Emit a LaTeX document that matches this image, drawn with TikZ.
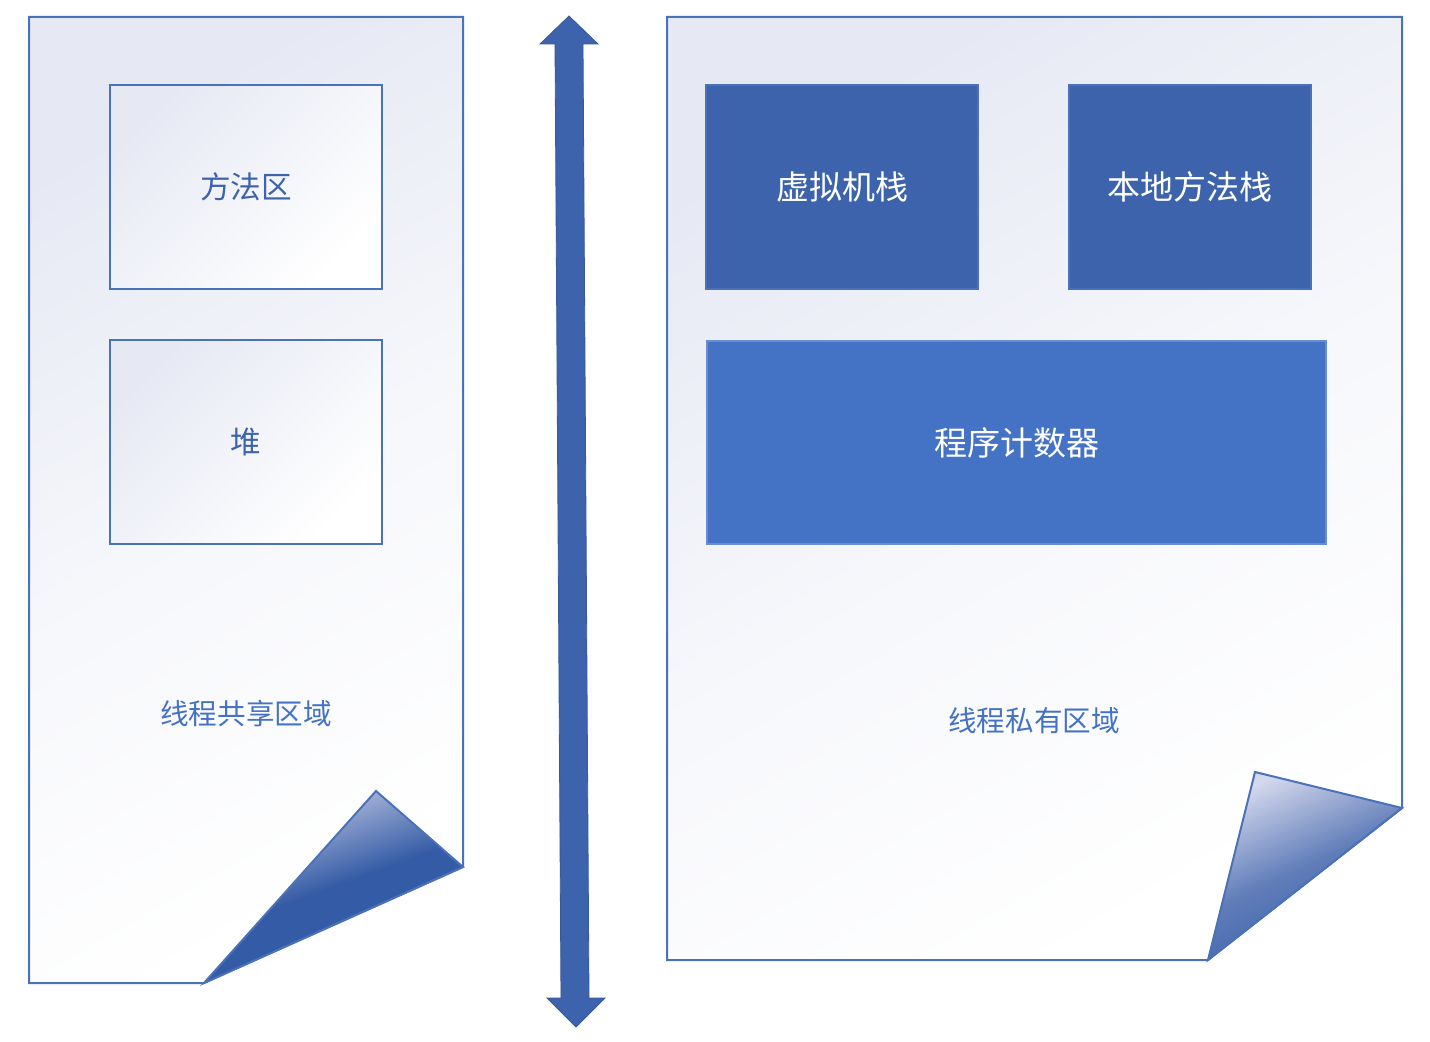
\documentclass[tikz,border=0pt]{standalone}
\usepackage{fontspec}
\usepackage{tikz}
\usetikzlibrary{calc, positioning, shapes, backgrounds}
\newfontfamily\cjk{Noto Sans CJK SC}
\definecolor{lineblue}{HTML}{4A72B8}
\definecolor{darkblue}{HTML}{3D63AC}
\definecolor{midblue}{HTML}{4472C4}
\definecolor{pagetop}{HTML}{E6E9F4}
\definecolor{foldlight}{HTML}{C9CEE8}
\definecolor{folddark}{HTML}{345BA5}
\tikzstyle{page}=[draw=lineblue, line width=1pt, top color=pagetop, bottom color=white, middle color=pagetop!35, shading angle=30]
\tikzstyle{fold}=[draw=lineblue, line width=1pt, top color=foldlight, bottom color=folddark, middle color=folddark, shading angle=20]
\tikzstyle{lightbox}=[draw=lineblue, line width=1pt, top color=pagetop, bottom color=white, shading angle=45, minimum width=136pt, minimum height=102pt, text=darkblue, font=\cjk\fontsize{15.3}{18}\selectfont]
\tikzstyle{darkbox}=[draw=lineblue, line width=0.8pt, fill=darkblue, minimum height=102pt, text=white, font=\cjk\fontsize{16.5}{20}\selectfont]
\tikzstyle{region}=[text=midblue, font=\cjk\fontsize{14.3}{17}\selectfont]

\begin{document}
\begin{tikzpicture}[x=0.5pt, y=-0.5pt]
		\useasboundingbox (0,0) rectangle (1430,1042);

		% shared area page
		\coordinate (L1) at (29,17);
		\coordinate (L2) at (463,17);
		\coordinate (L3) at (463,867);
		\coordinate (L4) at (376,791);
		\coordinate (L5) at (204,983);
		\coordinate (L6) at (29,983);
		\path[page] (L1) -- (L2) -- (L3) -- (L5) -- (L6) -- cycle;
		\path[fold] (L3) -- (L4) -- (L5) -- cycle;

		% private area page
		\coordinate (R1) at (667,17);
		\coordinate (R2) at (1402,17);
		\coordinate (R3) at (1402,808);
		\coordinate (R4) at (1255,772);
		\coordinate (R5) at (1208,960);
		\coordinate (R6) at (667,960);
		\path[page] (R1) -- (R2) -- (R3) -- (R5) -- (R6) -- cycle;
		\path[fold, top color=foldlight!80!white, middle color=foldlight!30!folddark, shading angle=25] (R3) -- (R4) -- (R5) -- cycle;

		\node[lightbox] (method) at (246,187) {方法区};
		\node[lightbox] (heap) at (246,442) {堆};
		\node[region] (shared) at (246,714) {线程共享区域};

		\node[darkbox, minimum width=136pt] (vmstack) at (842,187) {虚拟机栈};
		\node[darkbox, minimum width=121pt] (nativestack) at (1190,187) {本地方法栈};
		\node[darkbox, fill=midblue, draw=midblue!80!white, minimum width=309.5pt, minimum height=101.5pt] (pc) at (1016.5,442.5) {程序计数器};
		\node[region] (private) at (1034,721) {线程私有区域};

		% double arrow between the two areas
		\fill[darkblue, draw=darkblue!90!black, line width=0.4pt]
			(569,16) -- (598,44) -- (583,44) -- (589,998) -- (605,998) -- (576,1027)
			-- (547,998) -- (561,998) -- (555,44) -- (540,44) -- cycle;

	\end{tikzpicture}
\end{document}
